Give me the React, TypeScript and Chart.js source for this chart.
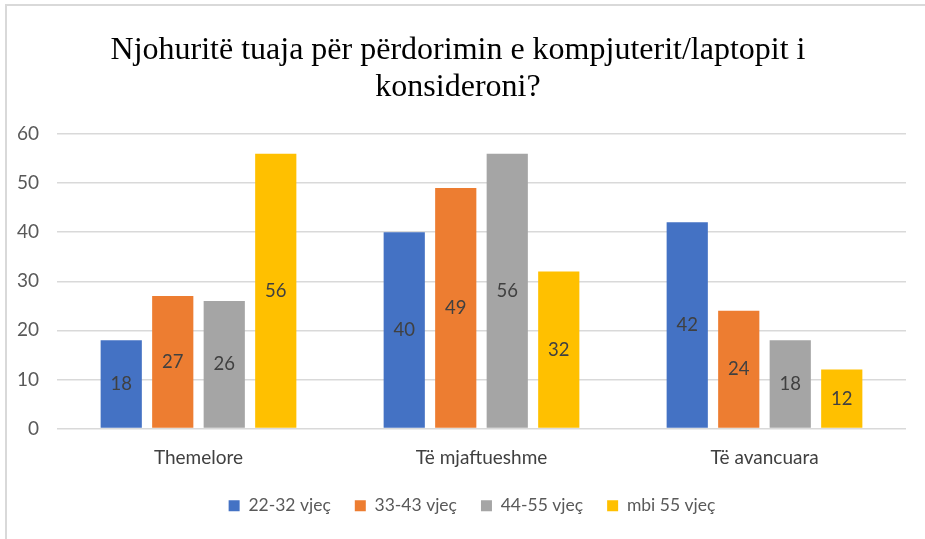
import React, { useEffect, useRef } from "react";
import { Chart, registerables } from "chart.js";

Chart.register(...registerables);

const titleLines = [
  "Njohuritë tuaja për përdorimin e kompjuterit/laptopit i",
  "konsideroni?",
];
const categories = ["Themelore", "Të mjaftueshme", "Të avancuara"];
const seriesNames = ["22-32 vjeç", "33-43 vjeç", "44-55 vjeç", "mbi 55 vjeç"];
const series1 = [18, 40, 42];
const series2 = [27, 49, 24];
const series3 = [26, 56, 18];
const series4 = [56, 32, 12];
const yMin = 0;
const yMax = 60;
const yStep = 10;

const colors = ["#4472C4", "#ED7D31", "#A5A5A5", "#FFC000"];
const FONT = "Lato";

const valueLabels = {
  id: "valueLabels",
  afterDatasetsDraw(chart: any) {
    const ctx = chart.ctx;
    ctx.save();
    ctx.font = `18.5px ${FONT}`;
    ctx.fillStyle = "#404040";
    ctx.textAlign = "center";
    ctx.textBaseline = "middle";
    chart.data.datasets.forEach((ds: any, i: number) => {
      const meta = chart.getDatasetMeta(i);
      meta.data.forEach((el: any, j: number) => {
        const y = (el.y + el.base) / 2;
        ctx.fillText(String(ds.data[j]), el.x, y);
      });
    });
    ctx.restore();
  },
};

const legendShift = {
  id: "legendShift",
  afterLayout(chart: any) {
    const l = chart.legend;
    if (l) {
      l.left += 14;
      l.right += 14;
    }
  },
};

export default function App() {
  const ref = useRef<HTMLCanvasElement>(null);
  useEffect(() => {
    if (!ref.current) return;
    const all = [series1, series2, series3, series4];
    const chart = new Chart(ref.current, {
      type: "bar",
      data: {
        labels: categories,
        datasets: all.map((d, i) => ({
          label: seriesNames[i],
          data: d,
          backgroundColor: colors[i],
          borderWidth: 0,
          categoryPercentage: 0.728,
          barPercentage: 0.8,
        })),
      },
      plugins: [valueLabels, legendShift],
      options: {
        responsive: false,
        animation: false,
        layout: { padding: { left: 10, right: 19, top: 32.6, bottom: 14.5 } },
        plugins: {
          title: {
            display: true,
            text: titleLines,
            color: "#000000",
            font: { family: "Liberation Serif", size: 32, weight: "normal", lineHeight: 1.15 },
            padding: { top: 0, bottom: 27.8 },
          },
          legend: {
            position: "bottom",
            labels: {
              boxWidth: 11,
              boxHeight: 11,
              color: "#595959",
              font: { family: FONT, size: 17.5 },
              padding: 24,
            },
          },
          tooltip: { enabled: false },
        },
        scales: {
          x: {
            grid: { display: false, drawTicks: false },
            border: { display: false },
            ticks: { color: "#404040", font: { family: FONT, size: 19 }, padding: 18 },
            afterFit: (s: any) => {
              s.height = 44.5;
            },
          },
          y: {
            min: yMin,
            max: yMax,
            ticks: {
              stepSize: yStep,
              color: "#595959",
              font: { family: FONT, size: 19 },
              padding: 18,
            },
            grid: { color: "#d9d9d9", lineWidth: 1.5, drawTicks: false },
            border: { display: false },
            afterFit: (s: any) => {
              s.width = 47;
            },
          },
        },
      },
    } as any);
    return () => chart.destroy();
  }, []);

  return (
    <div style={{ position: "fixed", left: 0, top: 0, width: 925, height: 539, background: "#fff" }}>
      <canvas ref={ref} width={925} height={539} style={{ display: "block" }} />
      <div
        style={{
          position: "absolute",
          left: 5,
          top: 4,
          right: 0,
          bottom: 0,
          borderTop: "2px solid #d9d9d9",
          borderLeft: "2px solid #d9d9d9",
          pointerEvents: "none",
        }}
      />
    </div>
  );
}
